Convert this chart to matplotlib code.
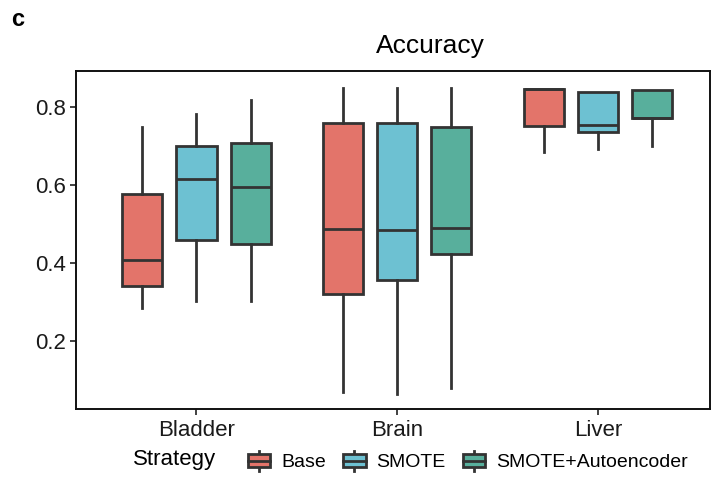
import matplotlib
matplotlib.use('Agg')
import matplotlib.pyplot as plt
from matplotlib.patches import Rectangle
from matplotlib.lines import Line2D
from matplotlib.legend_handler import HandlerBase

plt.rcParams['font.family'] = ['Liberation Sans', 'DejaVu Sans']

tissues = ['Bladder', 'Brain', 'Liver']
strategies = ['Base', 'SMOTE', 'SMOTE+Autoencoder']
colors = ['#E3746A', '#6DC1D2', '#58AF9C']

# [lower whisker, q1, median, q3, upper whisker] per tissue
base = [[0.283, 0.341, 0.407, 0.576, 0.749],
        [0.067, 0.319, 0.486, 0.760, 0.850],
        [0.685, 0.752, 0.846, 0.846, 0.846]]
smote = [[0.302, 0.458, 0.615, 0.700, 0.782],
         [0.064, 0.356, 0.485, 0.760, 0.850],
         [0.692, 0.737, 0.754, 0.839, 0.839]]
smote_ae = [[0.302, 0.449, 0.596, 0.708, 0.819],
            [0.078, 0.423, 0.490, 0.748, 0.850],
            [0.699, 0.772, 0.772, 0.843, 0.843]]
series = [base, smote, smote_ae]
offsets = [-0.27, 0, 0.27]

edge = '#333333'
lw = 2.0

fig = plt.figure(figsize=(7.11, 4.8), dpi=100)
ax = fig.add_axes([0.107, 0.148, 0.892, 0.705])

for vals, col, off in zip(series, colors, offsets):
    stats = []
    for v in vals:
        stats.append({'whislo': v[0], 'q1': v[1], 'med': v[2],
                      'q3': v[3], 'whishi': v[4], 'fliers': []})
    pos = [i + off for i in range(len(tissues))]
    ax.bxp(stats, positions=pos, widths=0.2, patch_artist=True,
           showfliers=False, showcaps=False,
           boxprops=dict(facecolor=col, edgecolor=edge, linewidth=lw),
           medianprops=dict(color=edge, linewidth=lw, solid_capstyle='butt'),
           whiskerprops=dict(color=edge, linewidth=lw))

ax.set_xlim(-0.6, 2.56)
ax.set_ylim(0.0244, 0.894)
ax.set_xticks(range(len(tissues)))
ax.set_xticklabels(tissues)
ax.set_yticks([0.2, 0.4, 0.6, 0.8])
ax.set_yticklabels(['0.2', '0.4', '0.6', '0.8'])
ax.tick_params(axis='both', labelsize=16, length=4, width=1.3,
               color=edge, labelcolor='#1a1a1a', pad=3)
ax.tick_params(axis='x', pad=4)
for s in ax.spines.values():
    s.set_linewidth(1.4)
    s.set_color('#111111')

fig.text(430 / 711, 1 - 46 / 480, 'Accuracy', fontsize=19, ha='center', va='center')
fig.text(11 / 711, 1 - 20 / 480, 'c', fontsize=17, fontweight='bold', ha='left', va='center')


class BoxKey(HandlerBase):
    def create_artists(self, legend, orig_handle, xdescent, ydescent,
                       width, height, fontsize, trans):
        x0 = -xdescent
        y0 = -ydescent
        cx = x0 + width / 2
        bh = height * 0.65
        by = y0 + (height - bh) / 2
        rect = Rectangle((x0, by), width, bh, facecolor=orig_handle.get_facecolor(),
                         edgecolor=edge, linewidth=lw, transform=trans)
        med = Line2D([x0, x0 + width], [by + bh / 2] * 2, color=edge, lw=lw, transform=trans)
        w1 = Line2D([cx, cx], [y0, by], color=edge, lw=lw, transform=trans)
        w2 = Line2D([cx, cx], [by + bh, y0 + height], color=edge, lw=lw, transform=trans)
        return [w1, w2, rect, med]


handles = [Rectangle((0, 0), 1, 1, facecolor=c) for c in colors]
fig.text(133 / 711, 1 - 460 / 480, 'Strategy', fontsize=16, ha='left', va='center')
fig.legend(handles, strategies, handler_map={Rectangle: BoxKey()},
           loc='center left', bbox_to_anchor=(248 / 711, 1 - 461 / 480),
           ncol=3, frameon=False, fontsize=14, handlelength=1.15,
           handleheight=1.2, handletextpad=0.55, columnspacing=0.9,
           borderpad=0, borderaxespad=0)

fig.savefig('out.png', dpi=100)
